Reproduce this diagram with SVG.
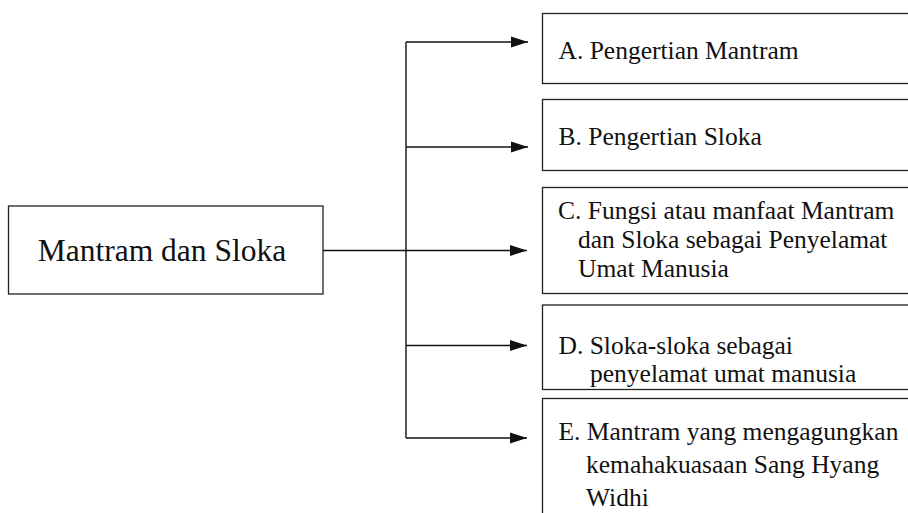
<svg xmlns="http://www.w3.org/2000/svg" width="908" height="513" viewBox="0 0 908 513">
<defs>
<style>
.box{fill:#fff;stroke:#222;stroke-width:1.3}
.t{font-family:'Liberation Serif','Times New Roman','DejaVu Serif',serif;fill:#111;font-size:25.5px}
.main{font-size:31.5px}
.c{fill:none;stroke:#111;stroke-width:1.4}
</style>
<marker id="ah" markerUnits="userSpaceOnUse" markerWidth="17" markerHeight="12" refX="17" refY="6" orient="auto">
<path d="M0,0.5 L17,6 L0,11.5 Z" fill="#111"/>
</marker>
</defs>
<rect width="908" height="513" fill="#fff"/>
<g id="connectors">
<line class="c" x1="323" y1="250.5" x2="527" y2="250.5" marker-end="url(#ah)"/>
<line class="c" x1="406" y1="42" x2="406" y2="438"/>
<line class="c" x1="406" y1="42" x2="528" y2="42" marker-end="url(#ah)"/>
<line class="c" x1="406" y1="147" x2="528" y2="147" marker-end="url(#ah)"/>
<line class="c" x1="406" y1="345.5" x2="527" y2="345.5" marker-end="url(#ah)"/>
<line class="c" x1="406" y1="438" x2="527" y2="438" marker-end="url(#ah)"/>
</g>
<g id="main">
<rect class="box" x="8.5" y="206" width="314.5" height="88"/>
<text class="t main" x="162" y="261" text-anchor="middle">Mantram dan Sloka</text>
</g>
<g id="nodeA">
<rect class="box" x="542.5" y="13.5" width="380" height="70"/>
<text class="t" x="558.5" y="59">A. Pengertian Mantram</text>
</g>
<g id="nodeB">
<rect class="box" x="542.5" y="99.5" width="380" height="71"/>
<text class="t" x="558.5" y="145">B. Pengertian Sloka</text>
</g>
<g id="nodeC">
<rect class="box" x="542.5" y="187.5" width="380" height="106"/>
<text class="t" x="558" y="219">C. Fungsi atau manfaat Mantram</text>
<text class="t" x="578" y="248">dan Sloka sebagai Penyelamat</text>
<text class="t" x="578" y="277">Umat Manusia</text>
</g>
<g id="nodeD">
<rect class="box" x="542.5" y="305" width="380" height="84.5"/>
<text class="t" x="558.5" y="354">D. Sloka-sloka sebagai</text>
<text class="t" x="590" y="382">penyelamat umat manusia</text>
</g>
<g id="nodeE">
<rect class="box" x="542.5" y="398.5" width="380" height="130"/>
<text class="t" x="558.5" y="440">E. Mantram yang mengagungkan</text>
<text class="t" x="586" y="472.5">kemahakuasaan Sang Hyang</text>
<text class="t" x="586" y="506">Widhi</text>
</g>
</svg>
